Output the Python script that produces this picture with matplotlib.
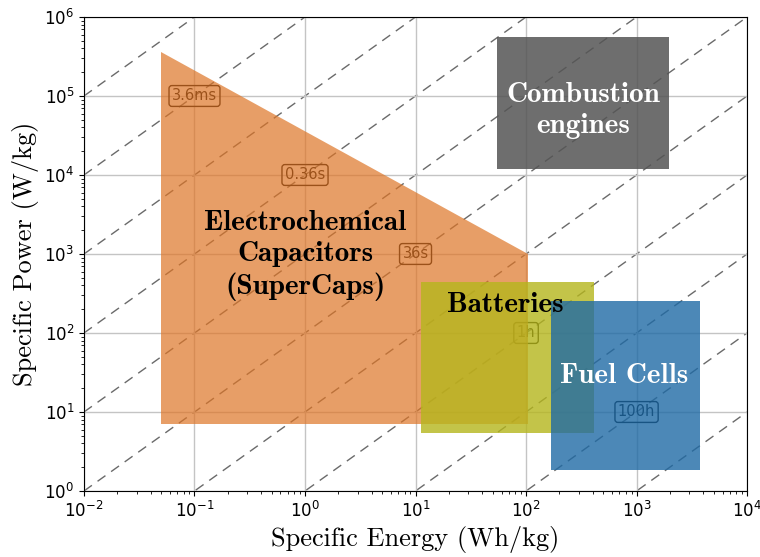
import numpy as np
import matplotlib
matplotlib.use("Agg")
import matplotlib.pyplot as plt

# Region outlines (Specific Energy Wh/kg, Specific Power W/kg)
supercap_E = [0.05, 0.05, 105, 105]
supercap_P = [3.6e5, 7, 7, 1e3]
battery_E = [11.2, 412]
battery_P = [5.4, 442]
fuelcell_E = [168, 3750]
fuelcell_P = [1.84, 254]
engine_E = [55, 1970]
engine_P = [1.19e4, 5.6e5]

# Constant discharge-time lines: P/E ratios (decades)
ratio_exponents = list(range(-5, 9))

# Time labels placed on their P/E lines
time_labels = ["3.6ms", "0.36s", "36s", "1h", "100h"]
time_label_E = [0.1, 1, 10, 100, 1000]
time_label_P = [1e5, 1e4, 1e3, 1e2, 1e1]

fig = plt.figure(figsize=(7.6, 5.57), dpi=100)
ax = fig.add_axes([0.1105, 0.1185, 0.8725, 0.851])
ax.set_xscale("log")
ax.set_yscale("log")
ax.set_xlim(1e-2, 1e4)
ax.set_ylim(1e0, 1e6)

ax.grid(True, which="major", color="#c4c4c4", linewidth=1, zorder=0)

E_line = np.array([1e-2, 1e4])
for k in ratio_exponents:
    ax.plot(E_line, E_line * 10.0 ** k, color="#6a6a6a", linewidth=1,
            dashes=(7, 5), zorder=1)

for lab, e, p in zip(time_labels, time_label_E, time_label_P):
    ax.text(e, p, lab, ha="center", va="center", fontsize=10.5, color="black",
            zorder=2,
            bbox=dict(boxstyle="round,pad=0.2", facecolor="none",
                      edgecolor="black", linewidth=1))

# Regions
ax.fill(supercap_E, supercap_P, color=(0.87, 0.46, 0.15), alpha=0.7,
        linewidth=0, zorder=3)
ax.fill([battery_E[0], battery_E[1], battery_E[1], battery_E[0]],
        [battery_P[0], battery_P[0], battery_P[1], battery_P[1]],
        color="#b5b61c", alpha=0.8, linewidth=0, zorder=4)
ax.fill([fuelcell_E[0], fuelcell_E[1], fuelcell_E[1], fuelcell_E[0]],
        [fuelcell_P[0], fuelcell_P[0], fuelcell_P[1], fuelcell_P[1]],
        color="#1f6aa5", alpha=0.8, linewidth=0, zorder=5)
ax.fill([engine_E[0], engine_E[1], engine_E[1], engine_E[0]],
        [engine_P[0], engine_P[0], engine_P[1], engine_P[1]],
        color="#555555", alpha=0.85, linewidth=0, zorder=5)

bold = dict(family="cmb10", fontsize=21, ha="center", va="center",
            linespacing=1.25, zorder=6)
ax.text(1, 0.95e3, "Electrochemical\nCapacitors\n(SuperCaps)", color="black", **bold)
ax.text(65, 228, "Batteries", color="black", **bold)
ax.text(770, 28.5, "Fuel Cells", color="white", **bold)
ax.text(330, 6.6e4, "Combustion\nengines", color="white", **bold)

ax.set_xlabel("Specific Energy (Wh/kg)", family="cmr10", fontsize=19)
ax.set_ylabel("Specific Power (W/kg)", family="cmr10", fontsize=19)
ax.tick_params(labelsize=12)

fig.savefig("out.png", dpi=100)
